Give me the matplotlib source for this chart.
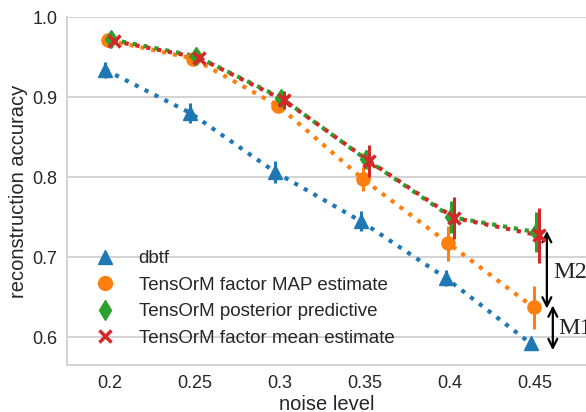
import numpy as np
import matplotlib
matplotlib.use('Agg')
import matplotlib.pyplot as plt
from matplotlib.lines import Line2D

noise = ['0.2', '0.25', '0.3', '0.35', '0.4', '0.45']

dbtf = [0.934, 0.880, 0.806, 0.745, 0.674, 0.592]
dbtf_err = [0.010, 0.013, 0.014, 0.012, 0.010, 0.006]
tom_map = [0.971, 0.948, 0.889, 0.797, 0.717, 0.637]
tom_map_err = [0.004, 0.004, 0.006, 0.015, 0.022, 0.027]
tom_pp = [0.972, 0.951, 0.899, 0.822, 0.750, 0.731]
tom_pp_err = [0.004, 0.005, 0.006, 0.012, 0.020, 0.025]
tom_mean = [0.970, 0.949, 0.896, 0.820, 0.749, 0.727]
tom_mean_err = [0.003, 0.005, 0.011, 0.020, 0.026, 0.034]

labels = ['dbtf', 'TensOrM factor MAP estimate', 'TensOrM posterior predictive',
          'TensOrM factor mean estimate']
series = [dbtf, tom_map, tom_pp, tom_mean]
errors = [dbtf_err, tom_map_err, tom_pp_err, tom_mean_err]
colors = ['#1f77b4', '#ff7f0e', '#2ca02c', '#d62728']
markers = ['^', 'o', 'd', 'x']

plt.rcParams['font.family'] = ['Liberation Sans', 'DejaVu Sans']
plt.rcParams['text.color'] = '#262626'
plt.rcParams['axes.labelcolor'] = '#262626'
plt.rcParams['xtick.color'] = '#262626'
plt.rcParams['ytick.color'] = '#262626'

fig = plt.figure(figsize=(5.86, 4.12), dpi=100)
ax = fig.add_axes([67 / 586, 47 / 412, 519 / 586, 348 / 412])

x = np.arange(len(noise))
dodge = 0.1
offsets = np.linspace(-dodge / 2, dodge / 2, len(series))
for i in range(len(series)):
    xi = x + offsets[i]
    ax.plot(xi, series[i], linestyle=':', lw=3, color=colors[i], zorder=2 + i)
    ax.errorbar(xi, series[i], yerr=errors[i], fmt=markers[i], color=colors[i],
                ms=9.5 if markers[i] != 'x' else 8.5, mew=2.5 if markers[i] == 'x' else 1,
                elinewidth=2.2, capsize=0, zorder=3 + i)

ax.set_xlim(-0.5, 5.6)
ax.set_ylim(0.565, 1.0)
ax.set_xticks(x)
ax.set_xticklabels(noise)
ax.set_yticks([0.6, 0.7, 0.8, 0.9, 1.0])
ax.tick_params(length=0, labelsize=13, pad=7)
ax.grid(axis='y', color='#cccccc', lw=1.2)
ax.set_axisbelow(True)
for s in ['top', 'right']:
    ax.spines[s].set_visible(False)
for s in ['left', 'bottom']:
    ax.spines[s].set_color('#cccccc')
    ax.spines[s].set_linewidth(1.2)
ax.set_xlabel('noise level', fontsize=14.5, labelpad=2)
ax.set_ylabel('reconstruction accuracy', fontsize=14.5, labelpad=3)

handles = [Line2D([], [], linestyle='none', marker=markers[i], color=colors[i],
                  ms=10 if markers[i] != 'x' else 8, mew=2.5 if markers[i] == 'x' else 1)
           for i in range(len(series))]
ax.legend(handles, labels, loc='lower left', bbox_to_anchor=(0.015, 0.02), frameon=False,
          fontsize=13.5, handletextpad=0.8, labelspacing=0.5, borderaxespad=0.2)

# gap annotations at 0.45
ax.annotate('', xy=(5.14, 0.736), xytext=(5.14, 0.632),
            arrowprops=dict(arrowstyle='<->', color='black', lw=1.6, mutation_scale=16))
ax.annotate('', xy=(5.21, 0.643), xytext=(5.21, 0.580),
            arrowprops=dict(arrowstyle='<->', color='black', lw=1.6, mutation_scale=16))
ax.text(5.21, 0.68, 'M2', fontsize=17.5, family='Liberation Serif', va='center')
ax.text(5.27, 0.611, 'M1', fontsize=17.5, family='Liberation Serif', va='center')

fig.savefig('out.png', dpi=100)
